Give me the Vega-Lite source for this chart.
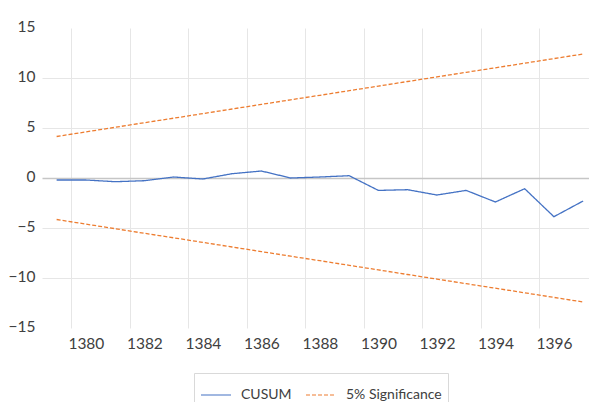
{
  "$schema": "https://vega.github.io/schema/vega-lite/v6.json",
  "width": 547,
  "height": 300,
  "autosize": "none",
  "padding": {"left": 42, "top": 28, "right": 0, "bottom": 74},
  "background": "white",
  "config": {"view": {"stroke": null}},
  "data": {"values": [
    {"year":1379,"series":"CUSUM","line":"CUSUM","value":-0.2},
    {"year":1380,"series":"CUSUM","line":"CUSUM","value":-0.2},
    {"year":1381,"series":"CUSUM","line":"CUSUM","value":-0.37},
    {"year":1382,"series":"CUSUM","line":"CUSUM","value":-0.27},
    {"year":1383,"series":"CUSUM","line":"CUSUM","value":0.1},
    {"year":1384,"series":"CUSUM","line":"CUSUM","value":-0.1},
    {"year":1385,"series":"CUSUM","line":"CUSUM","value":0.43},
    {"year":1386,"series":"CUSUM","line":"CUSUM","value":0.7},
    {"year":1387,"series":"CUSUM","line":"CUSUM","value":0.0},
    {"year":1388,"series":"CUSUM","line":"CUSUM","value":0.1},
    {"year":1389,"series":"CUSUM","line":"CUSUM","value":0.23},
    {"year":1390,"series":"CUSUM","line":"CUSUM","value":-1.24},
    {"year":1391,"series":"CUSUM","line":"CUSUM","value":-1.17},
    {"year":1392,"series":"CUSUM","line":"CUSUM","value":-1.7},
    {"year":1393,"series":"CUSUM","line":"CUSUM","value":-1.24},
    {"year":1394,"series":"CUSUM","line":"CUSUM","value":-2.4},
    {"year":1395,"series":"CUSUM","line":"CUSUM","value":-1.07},
    {"year":1396,"series":"CUSUM","line":"CUSUM","value":-3.87},
    {"year":1397,"series":"CUSUM","line":"CUSUM","value":-2.3},
    {"year":1379,"series":"5% Significance","line":"Upper","value":4.15},
    {"year":1380,"series":"5% Significance","line":"Upper","value":4.61},
    {"year":1381,"series":"5% Significance","line":"Upper","value":5.07},
    {"year":1382,"series":"5% Significance","line":"Upper","value":5.53},
    {"year":1383,"series":"5% Significance","line":"Upper","value":5.98},
    {"year":1384,"series":"5% Significance","line":"Upper","value":6.44},
    {"year":1385,"series":"5% Significance","line":"Upper","value":6.90},
    {"year":1386,"series":"5% Significance","line":"Upper","value":7.36},
    {"year":1387,"series":"5% Significance","line":"Upper","value":7.82},
    {"year":1388,"series":"5% Significance","line":"Upper","value":8.27},
    {"year":1389,"series":"5% Significance","line":"Upper","value":8.73},
    {"year":1390,"series":"5% Significance","line":"Upper","value":9.19},
    {"year":1391,"series":"5% Significance","line":"Upper","value":9.65},
    {"year":1392,"series":"5% Significance","line":"Upper","value":10.11},
    {"year":1393,"series":"5% Significance","line":"Upper","value":10.57},
    {"year":1394,"series":"5% Significance","line":"Upper","value":11.02},
    {"year":1395,"series":"5% Significance","line":"Upper","value":11.48},
    {"year":1396,"series":"5% Significance","line":"Upper","value":11.94},
    {"year":1397,"series":"5% Significance","line":"Upper","value":12.40},
    {"year":1379,"series":"5% Significance","line":"Lower","value":-4.15},
    {"year":1380,"series":"5% Significance","line":"Lower","value":-4.61},
    {"year":1381,"series":"5% Significance","line":"Lower","value":-5.07},
    {"year":1382,"series":"5% Significance","line":"Lower","value":-5.53},
    {"year":1383,"series":"5% Significance","line":"Lower","value":-5.98},
    {"year":1384,"series":"5% Significance","line":"Lower","value":-6.44},
    {"year":1385,"series":"5% Significance","line":"Lower","value":-6.90},
    {"year":1386,"series":"5% Significance","line":"Lower","value":-7.36},
    {"year":1387,"series":"5% Significance","line":"Lower","value":-7.82},
    {"year":1388,"series":"5% Significance","line":"Lower","value":-8.27},
    {"year":1389,"series":"5% Significance","line":"Lower","value":-8.73},
    {"year":1390,"series":"5% Significance","line":"Lower","value":-9.19},
    {"year":1391,"series":"5% Significance","line":"Lower","value":-9.65},
    {"year":1392,"series":"5% Significance","line":"Lower","value":-10.11},
    {"year":1393,"series":"5% Significance","line":"Lower","value":-10.57},
    {"year":1394,"series":"5% Significance","line":"Lower","value":-11.02},
    {"year":1395,"series":"5% Significance","line":"Lower","value":-11.48},
    {"year":1396,"series":"5% Significance","line":"Lower","value":-11.94},
    {"year":1397,"series":"5% Significance","line":"Lower","value":-12.40}
  ]},
  "resolve": {"axis": {"x": "independent"}},
  "layer": [
    {
      "transform": [{"filter": "datum.series === '5% Significance'"}],
      "mark": {"type": "line", "strokeWidth": 1.3, "clip": true},
      "encoding": {
        "x": {"field": "year", "type": "quantitative",
          "scale": {"domain": [1378.5, 1397.2], "nice": false, "zero": false},
          "axis": {"orient": "bottom", "values": [1379.5,1381.5,1383.5,1385.5,1387.5,1389.5,1391.5,1393.5,1395.5,1397.5],
            "labels": false, "ticks": false, "domain": false, "grid": true, "gridColor": "#e6e6e6", "gridWidth": 1, "title": null}},
        "y": {"field": "value", "type": "quantitative",
          "scale": {"domain": [-15, 15], "nice": false, "zero": false},
          "axis": {"values": [-15,-10,-5,0,5,10,15], "title": null, "domain": false, "ticks": false, "tickSize": 0,
            "labelPadding": 7, "labelFont": "Lato", "labelFontSize": 15.5, "labelColor": "#404040", "labelOffset": -2,
            "grid": true,
            "gridColor": {"condition": {"test": "datum.value === 0", "value": "#c6c6c6"}, "value": "#e6e6e6"},
            "gridWidth": {"condition": {"test": "datum.value === 0", "value": 1.5}, "value": 1},
            "gridOpacity": {"condition": {"test": "abs(datum.value) === 15", "value": 0}, "value": 1}}},
        "color": {"field": "series", "type": "nominal",
          "scale": {"domain": ["CUSUM", "5% Significance"], "range": ["#4472C4", "#ED7D31"]},
          "legend": {"orient": "none", "legendX": 152, "legendY": 345, "direction": "horizontal", "title": null,
            "strokeColor": "#d9d9d9", "padding": 6, "symbolType": "stroke", "symbolSize": 900, "symbolStrokeWidth": 1.2,
            "labelFont": "Lato", "labelFontSize": 14, "labelColor": "#404040", "labelOffset": 9, "columnPadding": 11}},
        "strokeDash": {"field": "series", "type": "nominal",
          "scale": {"domain": ["CUSUM", "5% Significance"], "range": [[1, 0], [4, 2]]},
          "legend": {"orient": "none", "legendX": 152, "legendY": 345, "direction": "horizontal", "title": null}},
        "detail": {"field": "line"}
      }
    },
    {
      "transform": [{"filter": "datum.series === 'CUSUM'"}],
      "mark": {"type": "line", "strokeWidth": 1.3, "clip": true},
      "encoding": {
        "x": {"field": "year", "type": "quantitative",
          "axis": {"orient": "bottom", "values": [1380,1382,1384,1386,1388,1390,1392,1394,1396], "format": "d",
            "labels": true, "ticks": false, "tickSize": 0, "domain": false, "grid": false, "title": null,
            "labelPadding": 8, "labelFont": "Lato", "labelFontSize": 15.5, "labelColor": "#404040"}},
        "y": {"field": "value", "type": "quantitative"},
        "color": {"field": "series", "type": "nominal"},
        "strokeDash": {"field": "series", "type": "nominal"}
      }
    }
  ]
}
